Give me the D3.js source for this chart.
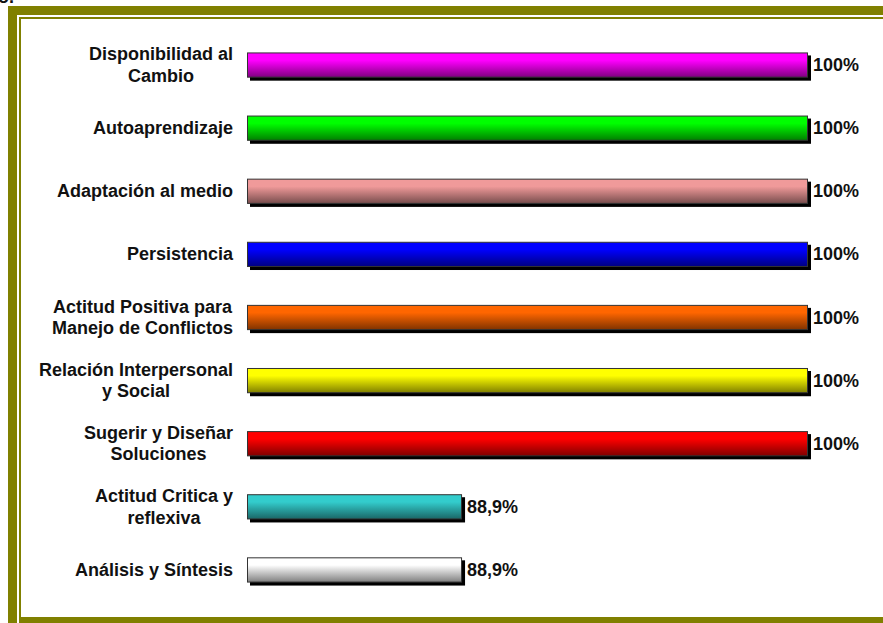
<!DOCTYPE html>
<html>
<head>
<meta charset="utf-8">
<script src="https://cdn.jsdelivr.net/npm/d3@7"></script>
<style>
  html, body { margin: 0; padding: 0; background: #fff; }
  svg { display: block; }
  text { font-family: Arial, "Liberation Sans", sans-serif; font-weight: bold; fill: #111; }
</style>
</head>
<body>
<svg id="chart" width="883" height="623"></svg>
<script>
const categories = [
  ["Disponibilidad al", "Cambio"],
  ["Autoaprendizaje"],
  ["Adaptación al medio"],
  ["Persistencia"],
  ["Actitud Positiva para", "Manejo de Conflictos"],
  ["Relación Interpersonal", "y Social"],
  ["Sugerir y Diseñar", "Soluciones"],
  ["Actitud Critica y", "reflexiva"],
  ["Análisis y Síntesis"]
];
const values = [100, 100, 100, 100, 100, 100, 100, 88.9, 88.9];
const valueLabels = ["100%", "100%", "100%", "100%", "100%", "100%", "100%", "88,9%", "88,9%"];
const barColors = ["#FF00FF", "#00FF00", "#F09A9A", "#0000FF", "#FF6600", "#FFFF00", "#FF0000", "#33CCCC", "#FFFFFF"];
const axisDomain = [82, 100];

const svg = d3.select("#chart");
const olive = "#808000";

// frame
svg.append("text").attr("x", 14).attr("y", 3).attr("text-anchor", "end")
  .style("font-size", "18px").text("Gráfico.");
svg.append("rect").attr("x", 8).attr("y", 6).attr("width", 900).attr("height", 9).attr("fill", olive);
svg.append("rect").attr("x", 8).attr("y", 6).attr("width", 9).attr("height", 620).attr("fill", olive);
svg.append("rect").attr("x", 19).attr("y", 17).attr("width", 900).attr("height", 2).attr("fill", olive);
svg.append("rect").attr("x", 19).attr("y", 17).attr("width", 2).attr("height", 610).attr("fill", olive);
svg.append("rect").attr("x", 19).attr("y", 617).attr("width", 900).attr("height", 6).attr("fill", olive);

const x = d3.scaleLinear().domain(axisDomain).range([247, 808]);
const y = d3.scaleBand().domain(d3.range(categories.length))
  .range([33.5, 601.5]).paddingInner(0.6).paddingOuter(0.3);

const defs = svg.append("defs");
barColors.forEach((c, i) => {
  const g = defs.append("linearGradient").attr("id", "g" + i)
    .attr("x1", 0).attr("y1", 0).attr("x2", 0).attr("y2", 1);
  g.append("stop").attr("offset", 0).attr("stop-color", c);
  g.append("stop").attr("offset", 0.3).attr("stop-color", c);
  g.append("stop").attr("offset", 1).attr("stop-color", d3.interpolateRgb(c, "#000")(0.5));
});

const bars = svg.append("g");
values.forEach((v, i) => {
  const y0 = y(i), h = y.bandwidth();
  // shadow
  bars.append("rect").attr("x", x(axisDomain[0]) + 3).attr("y", y0 + 3)
    .attr("width", x(v) - x(axisDomain[0])).attr("height", h).attr("fill", "#000");
  bars.append("rect").attr("x", x(axisDomain[0]) + 0.5).attr("y", y0 + 0.5)
    .attr("width", x(v) - x(axisDomain[0]) - 1).attr("height", h - 1)
    .attr("fill", `url(#g${i})`).attr("stroke", "#333").attr("stroke-width", 1);
  svg.append("text").attr("x", x(v) + 5).attr("y", y0 + h / 2 + 6)
    .style("font-size", "18px").text(valueLabels[i]);
});

// category labels
const lineH = 21.5;
categories.forEach((lines, i) => {
  const cy = y(i) + y.bandwidth() / 2;
  const g = svg.append("g");
  const texts = lines.map((l, k) => g.append("text")
    .attr("y", cy + 6 + (k - (lines.length - 1) / 2) * lineH)
    .attr("text-anchor", "middle")
    .style("font-size", "18px").text(l));
  const w = d3.max(texts, t => t.node().getComputedTextLength());
  texts.forEach(t => t.attr("x", 233 - w / 2));
});
</script>
</body>
</html>
